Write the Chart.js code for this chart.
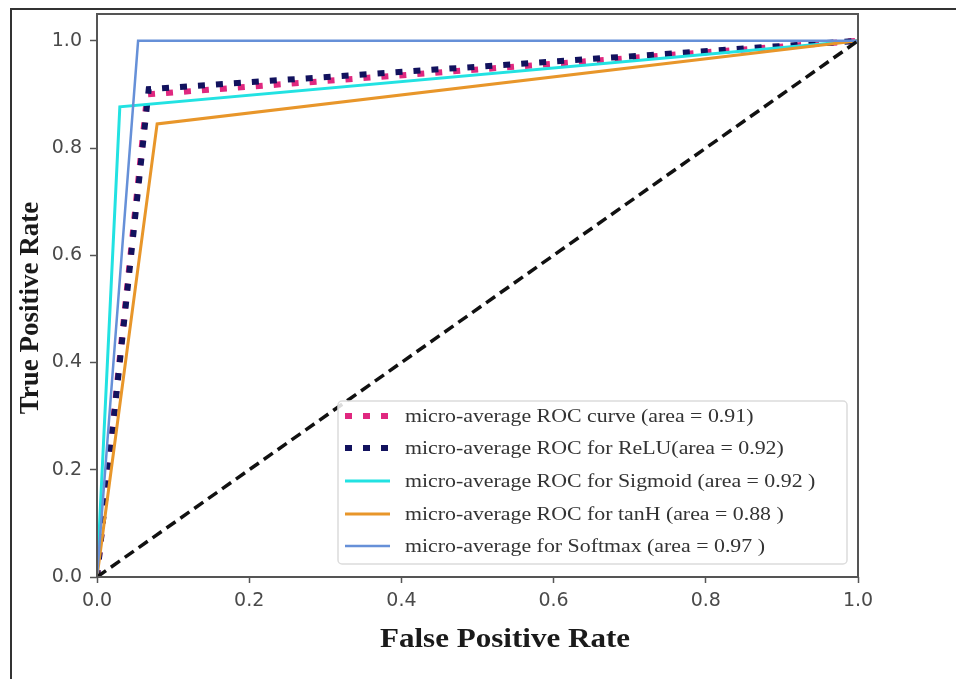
<!DOCTYPE html>
<html>
<head>
<meta charset="utf-8">
<script src="https://cdn.jsdelivr.net/npm/chart.js@4.4.1/dist/chart.umd.min.js"></script>
<style>
  body { margin: 0; background: #fff; }
  #wrap { position: relative; width: 956px; height: 679px; overflow: hidden; }
  #frame { position: absolute; left: 10px; top: 8px; width: 960px; height: 700px;
           border-left: 2px solid #333; border-top: 2px solid #333; }
  canvas { position: absolute; left: 0; top: 0; }
</style>
</head>
<body>
<div id="wrap">
  <div id="frame"></div>
  <canvas id="roc" width="956" height="679"></canvas>
</div>
<script>
// values: false positive rate / true positive rate per curve
var labels = [
  'micro-average ROC curve (area = 0.91)',
  'micro-average ROC for ReLU(area = 0.92)',
  'micro-average ROC for Sigmoid (area = 0.92 )',
  'micro-average ROC for tanH (area = 0.88 )',
  'micro-average for Softmax (area = 0.97 )'
];
var fpr_micro = [0, 0.066, 1];
var tpr_micro = [0, 0.900, 1];
var fpr_relu = [0, 0.068, 1];
var tpr_relu = [0, 0.910, 1];
var fpr_sigmoid = [0, 0.030, 1];
var tpr_sigmoid = [0, 0.877, 1];
var fpr_tanh = [0, 0.079, 1];
var tpr_tanh = [0, 0.845, 1];
var fpr_softmax = [0, 0.054, 1];
var tpr_softmax = [0, 1.000, 1];
var fpr_chance = [0, 1];
var tpr_chance = [0, 1];

var xTicks = [0, 0.2, 0.4, 0.6, 0.8, 1.0];
var yTicks = [0, 0.2, 0.4, 0.6, 0.8, 1.0];

var STRETCH = 1.15;  // picture is a bit wider than tall

function pts(xs, ys) {
  return xs.map(function (x, i) { return { x: x, y: ys[i] }; });
}

// box round the plot, legend inside, axis titles
var decor = {
  id: 'decor',
  afterDatasetsDraw: function (chart) {
    var ctx = chart.ctx, a = chart.chartArea;
    ctx.save();
    ctx.strokeStyle = '#555';
    ctx.lineWidth = 2;
    ctx.strokeRect(a.left, a.top, a.right - a.left, a.bottom - a.top);

    // legend
    var lx = 338, ly = 401, lw = 509, lh = 163;
    ctx.fillStyle = 'rgba(255,255,255,0.85)';
    ctx.strokeStyle = '#dcdcdc';
    ctx.lineWidth = 1.5;
    ctx.beginPath();
    ctx.roundRect(lx, ly, lw, lh, 4);
    ctx.fill();
    ctx.stroke();

    var rows = [416, 448, 481, 514, 546];
    var sets = chart.data.datasets;
    for (var i = 0; i < labels.length; i++) {
      var ds = sets[i], y = rows[i];
      ctx.save();
      ctx.strokeStyle = ds.borderColor;
      ctx.lineWidth = ds.borderWidth;
      ctx.setLineDash(ds.borderDash || []);
      ctx.beginPath();
      ctx.moveTo(345, y);
      ctx.lineTo(390, y);
      ctx.stroke();
      ctx.restore();

      ctx.save();
      ctx.translate(405, y);
      ctx.scale(STRETCH, 1);
      ctx.fillStyle = '#333';
      ctx.font = '19px "Liberation Serif"';
      ctx.textBaseline = 'middle';
      ctx.fillText(labels[i], 0, 1);
      ctx.restore();
    }

    // axis titles
    ctx.fillStyle = '#1a1a1a';
    ctx.font = 'bold 27px "Liberation Serif"';
    ctx.textAlign = 'center';
    ctx.textBaseline = 'middle';
    ctx.save();
    ctx.translate(505, 640);
    ctx.scale(STRETCH, 1);
    ctx.fillText('False Positive Rate', 0, 0);
    ctx.restore();
    ctx.save();
    ctx.translate(31, 308);
    ctx.rotate(-Math.PI / 2);
    ctx.fillText('True Positive Rate', 0, 0);
    ctx.restore();
    ctx.restore();
  }
};

var tickFont = { family: '"DejaVu Sans"', size: 19 };

new Chart(document.getElementById('roc'), {
  type: 'line',
  data: {
    datasets: [
      { data: pts(fpr_micro, tpr_micro), borderColor: '#e0287f', borderWidth: 6,
        borderDash: [7, 11], order: 6 },
      { data: pts(fpr_relu, tpr_relu), borderColor: '#12125e', borderWidth: 6,
        borderDash: [7, 11], order: 5 },
      { data: pts(fpr_sigmoid, tpr_sigmoid), borderColor: '#22e2e2', borderWidth: 3, order: 4 },
      { data: pts(fpr_tanh, tpr_tanh), borderColor: '#e8962a', borderWidth: 3, order: 3 },
      { data: pts(fpr_softmax, tpr_softmax), borderColor: '#6690d8', borderWidth: 2.5, order: 2 },
      { data: pts(fpr_chance, tpr_chance), borderColor: '#111', borderWidth: 3.5,
        borderDash: [11, 6], order: 1 }
    ]
  },
  options: {
    responsive: false,
    animation: false,
    layout: { padding: { top: 14, right: 98, left: 0, bottom: 0 } },
    elements: { point: { radius: 0 }, line: { tension: 0, borderCapStyle: 'butt' } },
    plugins: { legend: { display: false }, tooltip: { enabled: false } },
    scales: {
      x: {
        type: 'linear', min: 0, max: 1,
        afterBuildTicks: function (s) { s.ticks = xTicks.map(function (v) { return { value: v }; }); },
        afterFit: function (s) { s.height = 102; s.paddingLeft = 0; s.paddingRight = 0; },
        grid: { drawOnChartArea: false, color: '#555', tickLength: 6, tickWidth: 1.5 },
        border: { display: false },
        ticks: { color: '#4a4a4a', font: tickFont, padding: 7, maxRotation: 0,
                 callback: function (v) { return v.toFixed(1); } }
      },
      y: {
        type: 'linear', min: 0, max: 1.05,
        afterBuildTicks: function (s) { s.ticks = yTicks.map(function (v) { return { value: v }; }); },
        afterFit: function (s) { s.width = 97; s.paddingTop = 0; s.paddingBottom = 0; },
        grid: { drawOnChartArea: false, color: '#555', tickLength: 7, tickWidth: 1.5 },
        border: { display: false },
        ticks: { color: '#4a4a4a', font: tickFont, padding: 8,
                 callback: function (v) { return v.toFixed(1); } }
      }
    }
  },
  plugins: [decor]
});
</script>
</body>
</html>
